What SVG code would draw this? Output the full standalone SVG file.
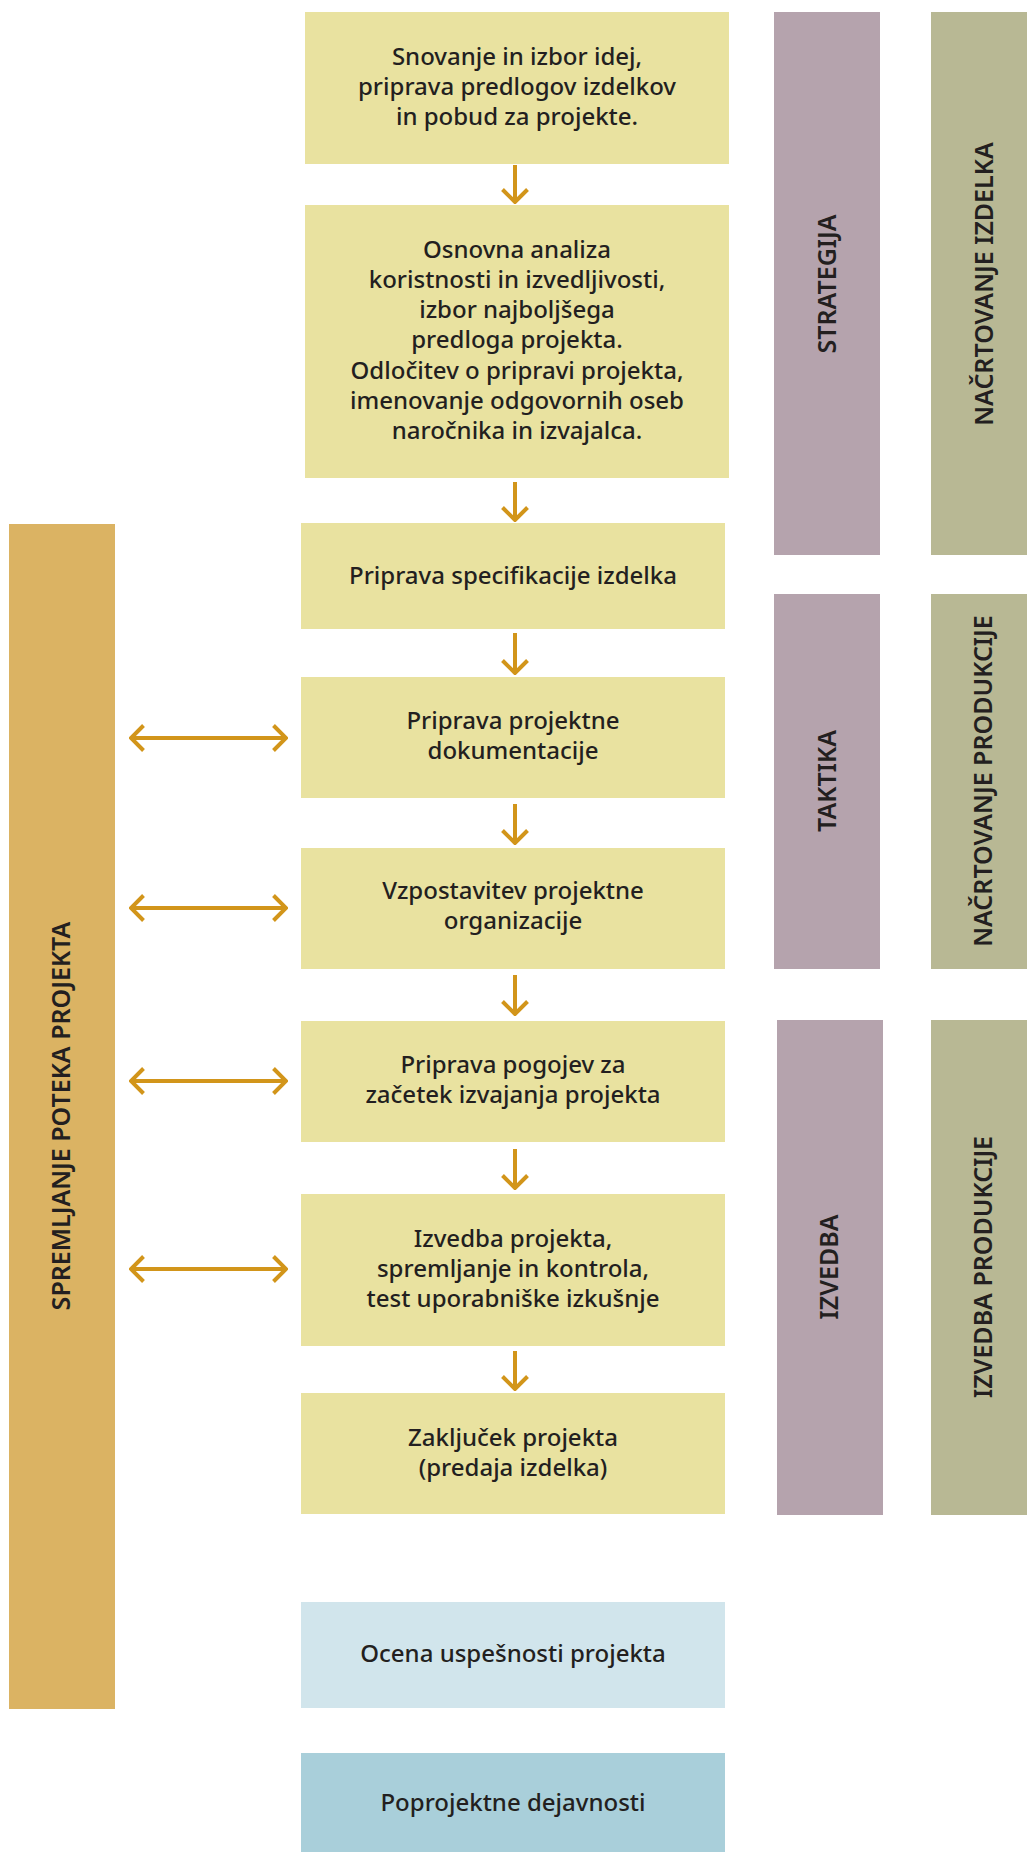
<svg xmlns="http://www.w3.org/2000/svg" width="1027" height="1852" viewBox="0 0 1027 1852">
<style>
.box{fill:#E9E2A0}
.t{font-family:"Noto Sans","Open Sans","DejaVu Sans",sans-serif;font-size:24px;font-weight:500;fill:#231F20;text-anchor:middle}
.v{font-family:"Noto Sans","Open Sans","DejaVu Sans",sans-serif;font-size:25px;font-weight:600;fill:#231F20;text-anchor:middle}
.pur{fill:#B5A3AD}
.oli{fill:#B8B894}
.ln{stroke:#D2951A;stroke-width:4;fill:none;stroke-linecap:butt}
</style>
<defs>
<marker id="ah" markerUnits="userSpaceOnUse" viewBox="-14 -14 16 28" refX="0" refY="0" markerWidth="16" markerHeight="28" orient="auto-start-reverse">
<path d="M-12.5,-12.5 L0,0 L-12.5,12.5" fill="none" stroke="#D2951A" stroke-width="4"/>
</marker>
</defs>
<rect width="1027" height="1852" fill="#FFFFFF"/>

<g id="side-spremljanje">
<rect x="9" y="524" width="106" height="1185" fill="#DBB363"/>
<text class="v" transform="translate(70,1116) rotate(-90)">SPREMLJANJE POTEKA PROJEKTA</text>
</g>

<g id="n1"><rect class="box" x="305" y="12" width="424" height="152"/>
<text class="t" x="517" y="65">Snovanje in izbor idej,</text>
<text class="t" x="517" y="95">priprava predlogov izdelkov</text>
<text class="t" x="517" y="125">in pobud za projekte.</text></g>

<g id="n2"><rect class="box" x="305" y="205" width="424" height="273"/>
<text class="t" x="517" y="258">Osnovna analiza</text>
<text class="t" x="517" y="288">koristnosti in izvedljivosti,</text>
<text class="t" x="517" y="318">izbor najboljšega</text>
<text class="t" x="517" y="348">predloga projekta.</text>
<text class="t" x="517" y="379">Odločitev o pripravi projekta,</text>
<text class="t" x="517" y="409">imenovanje odgovornih oseb</text>
<text class="t" x="517" y="439">naročnika in izvajalca.</text></g>

<g id="n3"><rect class="box" x="301" y="523" width="424" height="106"/>
<text class="t" x="513" y="584">Priprava specifikacije izdelka</text></g>

<g id="n4"><rect class="box" x="301" y="677" width="424" height="121"/>
<text class="t" x="513" y="729">Priprava projektne</text>
<text class="t" x="513" y="759">dokumentacije</text></g>

<g id="n5"><rect class="box" x="301" y="848" width="424" height="121"/>
<text class="t" x="513" y="899">Vzpostavitev projektne</text>
<text class="t" x="513" y="929">organizacije</text></g>

<g id="n6"><rect class="box" x="301" y="1021" width="424" height="121"/>
<text class="t" x="513" y="1073">Priprava pogojev za</text>
<text class="t" x="513" y="1103">začetek izvajanja projekta</text></g>

<g id="n7"><rect class="box" x="301" y="1194" width="424" height="152"/>
<text class="t" x="513" y="1247">Izvedba projekta,</text>
<text class="t" x="513" y="1277">spremljanje in kontrola,</text>
<text class="t" x="513" y="1307">test uporabniške izkušnje</text></g>

<g id="n8"><rect class="box" x="301" y="1393" width="424" height="121"/>
<text class="t" x="513" y="1446">Zaključek projekta</text>
<text class="t" x="513" y="1476">(predaja izdelka)</text></g>

<g id="n9"><rect x="301" y="1602" width="424" height="106" fill="#D1E5EC"/>
<text class="t" x="513" y="1662">Ocena uspešnosti projekta</text></g>

<g id="n10"><rect x="301" y="1753" width="424" height="99" fill="#A9CFDA"/>
<text class="t" x="513" y="1811">Poprojektne dejavnosti</text></g>

<g id="col-strategija"><rect class="pur" x="774" y="12" width="106" height="543"/>
<text class="v" transform="translate(836,284) rotate(-90)">STRATEGIJA</text></g>
<g id="col-taktika"><rect class="pur" x="774" y="594" width="106" height="375"/>
<text class="v" transform="translate(836,781) rotate(-90)">TAKTIKA</text></g>
<g id="col-izvedba"><rect class="pur" x="777" y="1020" width="106" height="495"/>
<text class="v" transform="translate(838,1267) rotate(-90)">IZVEDBA</text></g>

<g id="col-nacrtovanje-izdelka"><rect class="oli" x="931" y="12" width="96" height="543"/>
<text class="v" transform="translate(993,284) rotate(-90)">NAČRTOVANJE IZDELKA</text></g>
<g id="col-nacrtovanje-produkcije"><rect class="oli" x="931" y="594" width="96" height="375"/>
<text class="v" transform="translate(992,781) rotate(-90)">NAČRTOVANJE PRODUKCIJE</text></g>
<g id="col-izvedba-produkcije"><rect class="oli" x="931" y="1020" width="96" height="495"/>
<text class="v" transform="translate(992,1267) rotate(-90)">IZVEDBA PRODUKCIJE</text></g>

<g id="connectors">
<line class="ln" x1="515" y1="165" x2="515" y2="202" marker-end="url(#ah)"/>
<line class="ln" x1="515" y1="482" x2="515" y2="520" marker-end="url(#ah)"/>
<line class="ln" x1="515" y1="633" x2="515" y2="673" marker-end="url(#ah)"/>
<line class="ln" x1="515" y1="804" x2="515" y2="843" marker-end="url(#ah)"/>
<line class="ln" x1="515" y1="975" x2="515" y2="1014" marker-end="url(#ah)"/>
<line class="ln" x1="515" y1="1149" x2="515" y2="1188" marker-end="url(#ah)"/>
<line class="ln" x1="515" y1="1351" x2="515" y2="1389" marker-end="url(#ah)"/>
<line class="ln" x1="131" y1="738" x2="286" y2="738" marker-start="url(#ah)" marker-end="url(#ah)"/>
<line class="ln" x1="131" y1="908" x2="286" y2="908" marker-start="url(#ah)" marker-end="url(#ah)"/>
<line class="ln" x1="131" y1="1081" x2="286" y2="1081" marker-start="url(#ah)" marker-end="url(#ah)"/>
<line class="ln" x1="131" y1="1269" x2="286" y2="1269" marker-start="url(#ah)" marker-end="url(#ah)"/>
</g>
</svg>
